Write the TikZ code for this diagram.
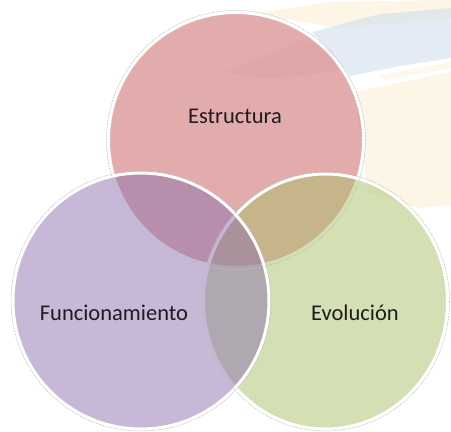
\documentclass[tikz,border=0pt]{standalone}
\usepackage{fontspec}
\setmainfont{Carlito}
\usetikzlibrary{shapes.geometric}

\definecolor{redset}{RGB}{199,89,89}
\definecolor{purpleset}{RGB}{141,113,173}
\definecolor{greenset}{RGB}{169,191,105}
\definecolor{washblue}{RGB}{200,218,236}
\definecolor{washcream}{RGB}{250,234,200}
\definecolor{labeltext}{RGB}{30,28,30}

\begin{document}
\begin{tikzpicture}[x=1pt,y=-1pt]
        \tikzstyle{set}=[draw=white,line width=3pt,fill opacity=0.5,inner sep=0pt]
        \tikzstyle{rim}=[draw=black!25,line width=0.5pt,dash pattern=on 2pt off 1pt,fill=none]
        \tikzstyle{setlabel}=[anchor=base,text=labeltext,font=\fontsize{22.5}{27}\selectfont]
          \useasboundingbox (0,0) rectangle (451,432);
          % watercolour wash behind the sets
          \fill [washcream,opacity=0.45] (250,14) -- (330,2) -- (451,0) -- (451,18) -- (340,28) -- cycle;
          \fill [washblue,opacity=0.5] (312,32) -- (380,14) -- (451,8) -- (451,58) -- (400,66) -- (350,76) -- cycle;
          \fill [washcream,opacity=0.45] (355,92) -- (451,72) -- (451,205) -- (420,208) -- (368,192) -- cycle;
          \fill [washcream,opacity=0.35] (380,75) -- (451,62) -- (451,68) -- (385,80) -- cycle;
          % the three sets (green under purple)
          \node (estructura) at (236,140) [set,circle,fill=redset,minimum size=255pt] {};
          \fill [redset!70!black,opacity=0.06] (225,72) -- (262,58) -- (300,40) -- (332,50) -- (338,70) -- (300,76) -- (262,78) -- cycle;
          \node (evolucion) at (325.5,301.5) [set,ellipse,fill=greenset,minimum width=244pt,minimum height=255pt] {};
          \node (funcionamiento) at (141,301) [set,circle,fill=purpleset,minimum size=256pt] {};
          \node at (estructura) [rim,circle,minimum size=259pt] {};
          \node at (funcionamiento) [rim,circle,minimum size=260pt] {};
          \node at (evolucion) [rim,ellipse,minimum width=248pt,minimum height=259pt] {};
          % labels
          \node (estructuraText) at (235,123) [setlabel] {Estructura};
          \node (funcionamientoText) at (114,320) [setlabel] {Funcionamiento};
          \node (evolucionText) at (355,320) [setlabel] {Evolución};
      \end{tikzpicture}
\end{document}
